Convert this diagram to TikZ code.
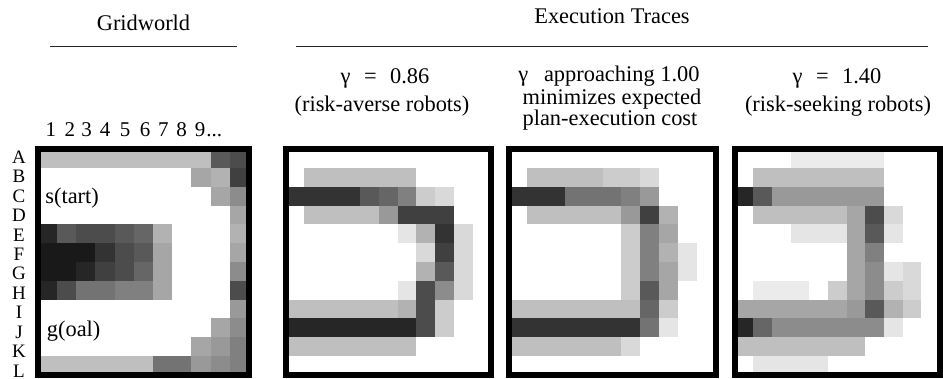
\documentclass[tikz,border=0pt]{standalone}
\usepackage{fontspec}
\setmainfont{Liberation Serif}
\usetikzlibrary{calc}
% #1 left edge, #2 cell width, #3 rows of grey levels
\newcommand{\DrawCells}[3]{%
  \foreach \cells [count=\ri] in {#3} {
    \foreach \v [count=\ci] in \cells {
      \filldraw[fill=black!\v, draw=black!\v, line width=0.2pt]
      ({#1+(\ci-1)*#2}, {149.5+(\ri-1)*18.8}) rectangle ++(#2, 18.8);
    }
  }%
}

\begin{document}
\begin{tikzpicture}[x=0.5pt, y=-0.5pt,
    heading/.style={font=\fontsize{11.2}{13}\selectfont, anchor=base, inner sep=0pt},
    rowlbl/.style={font=\fontsize{9.5}{10}\selectfont, anchor=base, inner sep=0pt},
    collbl/.style={font=\fontsize{10.5}{11}\selectfont, anchor=base, inner sep=0pt},
    frame/.style={draw=black, line width=3pt},
    rule/.style={draw=black!85, line width=0.75pt}]
  \useasboundingbox (0, 0) rectangle (943, 379);

  \def\RowTop {149.5};

  % gridworld
  \DrawCells{38}{19.2}{
    {25,25,25,25,25,25,25,25,25,65,70},
    {0,0,0,0,0,0,0,0,35,30,75},
    {0,0,0,0,0,0,0,0,0,35,45},
    {0,0,0,0,0,0,0,0,0,0,35},
    {85,65,70,70,65,60,30,0,0,0,30},
    {90,90,90,80,70,65,35,0,0,0,35},
    {90,90,85,75,70,60,35,0,0,0,45},
    {85,70,55,55,50,50,35,0,0,0,70},
    {0,0,0,0,0,0,0,0,0,0,40},
    {0,0,0,0,0,0,0,0,0,35,45},
    {0,0,0,0,0,0,0,0,35,40,50},
    {25,25,25,25,25,25,55,55,40,45,50}}
  \draw[frame] (38, \RowTop) coordinate (GridNW)
    rectangle ++(211.2, 225.6) coordinate (GridSE);

  % gamma = 0.86
  \DrawCells{285.7}{18.7}{
    {0,0,0,0,0,0,0,0,0,0,0},
    {0,25,25,25,25,25,25,0,0,0,0},
    {80,80,80,80,65,60,50,20,15,0,0},
    {0,25,25,25,25,40,75,75,75,0,0},
    {0,0,0,0,0,0,10,30,80,15,0},
    {0,0,0,0,0,0,0,15,75,15,0},
    {0,0,0,0,0,0,0,30,65,15,0},
    {0,0,0,0,0,0,10,70,45,15,0},
    {25,25,25,25,25,25,30,70,20,0,0},
    {85,85,85,85,85,85,85,70,20,0,0},
    {25,25,25,25,25,25,25,0,0,0,0},
    {0,0,0,0,0,0,0,0,0,0,0}}
  \draw[frame] (285.7, \RowTop) coordinate (AverseNW)
    rectangle ++(205.7, 225.6) coordinate (AverseSE);

  % gamma -> 1.00
  \DrawCells{508.8}{18.8}{
    {0,0,0,0,0,0,0,0,0,0,0},
    {0,25,25,25,25,20,20,15,0,0,0},
    {80,80,80,55,55,55,50,40,0,0,0},
    {0,25,25,25,25,25,40,75,30,0,0},
    {0,0,0,0,0,0,20,50,35,0,0},
    {0,0,0,0,0,0,20,50,30,10,0},
    {0,0,0,0,0,0,20,50,35,10,0},
    {0,0,0,0,0,0,20,65,35,0,0},
    {25,25,25,25,25,25,25,60,20,0,0},
    {80,80,80,80,80,80,80,55,10,0,0},
    {25,25,25,25,25,25,15,0,0,0,0},
    {0,0,0,0,0,0,0,0,0,0,0}}
  \draw[frame] (508.8, \RowTop) coordinate (NeutralNW)
    rectangle ++(206.8, 225.6) coordinate (NeutralSE);

  % gamma = 1.40
  \DrawCells{735}{18.65}{
    {0,0,0,8,8,8,8,8,0,0,0},
    {0,25,25,25,25,25,25,25,0,0,0},
    {85,65,40,40,40,40,40,40,0,0,0},
    {0,25,25,25,25,25,35,70,15,0,0},
    {0,0,0,10,10,10,35,65,10,0,0},
    {0,0,0,0,0,0,35,50,0,0,0},
    {0,0,0,0,0,0,35,45,10,15,0},
    {0,8,8,8,0,20,35,45,20,15,0},
    {35,35,35,35,35,35,40,65,30,20,0},
    {85,60,45,45,45,45,45,45,10,0,0},
    {25,25,25,25,25,25,25,0,0,0,0},
    {0,10,10,10,10,0,0,0,0,0,0}}
  \draw[frame] (735, \RowTop) coordinate (SeekingNW)
    rectangle ++(205.15, 225.6) coordinate (SeekingSE);

  % headings
  \node[heading] (GridTitle) at (143.5, 31) {Gridworld};
  \coordinate (GridRuleL) at (50, 46.7);
  \coordinate (GridRuleR) at (237, 46.7);
  \draw[rule] (GridRuleL) -- (GridRuleR);

  \node[heading] (TraceTitle) at (612, 23.3) {Execution Traces};
  \coordinate (TraceRuleL) at (296, 46.7);
  \coordinate (TraceRuleR) at (928, 46.7);
  \draw[rule] (TraceRuleL) -- (TraceRuleR);

  \node[heading] (AverseGamma) at (385, 83.3) {γ\hspace{0.6em}=\hspace{0.6em}0.86};
  \node[heading] (AverseNote) at (382, 111.7) {(risk-averse robots)};

  \node[heading] (NeutralGamma) at (609, 82) {γ\hspace{0.7em}approaching 1.00};
  \node[heading] (NeutralNoteA) at (612, 104.5) {minimizes expected};
  \node[heading] (NeutralNoteB) at (610, 126) {plan-execution cost};

  \node[heading] (SeekingGamma) at (837, 83.3) {γ\hspace{0.6em}=\hspace{0.6em}1.40};
  \node[heading] (SeekingNote) at (838, 111.7) {(risk-seeking robots)};

  % grid labels
  \foreach \n/\x in {1/50.8, 2/70, 3/86.7, 4/105, 5/125, 6/145, 7/163.3, 8/181.7, 9/200}
    \node[collbl] (col\n) at (\x, 136.7) {\n};
  \node[collbl, anchor=base west] (colMore) at (206, 136.7) {...};

  \foreach \l [count=\i] in {A,B,C,D,E,F,G,H,I,J,K,L}
    \node[rowlbl] (row\l) at (19, {163.3+(\i-1)*19.45}) {\l};

  \node[heading, anchor=base west] (Start) at (45, 204) {s(tart)};
  \node[heading, anchor=base west] (Goal) at (46.5, 336.7) {g(oal)};
\end{tikzpicture}
\end{document}
